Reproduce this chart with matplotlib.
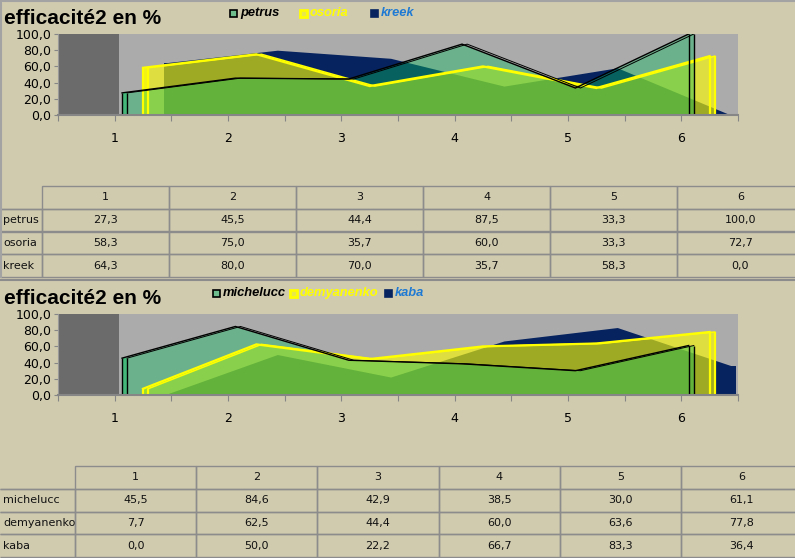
import numpy as np
import matplotlib.pyplot as plt
from matplotlib.lines import Line2D
from matplotlib.patches import Rectangle
from matplotlib.table import Table

W, H = 795, 558
bg = '#D0CBAF'

# data
cats = [1, 2, 3, 4, 5, 6]
col_labels = ['1', '2', '3', '4', '5', '6']
yticks = [0, 20, 40, 60, 80, 100]

names_a = ['petrus', 'osoria', 'kreek']
petrus = [27.3, 45.5, 44.4, 87.5, 33.3, 100.0]
osoria = [58.3, 75.0, 35.7, 60.0, 33.3, 72.7]
kreek = [64.3, 80.0, 70.0, 35.7, 58.3, 0.0]

names_b = ['michelucc', 'demyanenko', 'kaba']
michelucc = [45.5, 84.6, 42.9, 38.5, 30.0, 61.1]
demyanenko = [7.7, 62.5, 44.4, 60.0, 63.6, 77.8]
kaba = [0.0, 50.0, 22.2, 66.7, 83.3, 36.4]

# styles: front, middle, back
fills = [('#0BBF5E', 0.4), ('#FFFF00', 0.62), ('#06235F', 1.0)]
edge_cols = ['black', '#FFFF00', None]
text_cols = ['black', '#FFFF00', '#1F7AD3']
marker_face = ['#6DBE8C', '#E8E84A', '#06235F']
marker_edge = ['black', '#FFFF00', '#06235F']


def fx(x):
    return x / W


def fy(y):
    return 1 - y / H


fig = plt.figure(figsize=(W / 100, H / 100), dpi=100, facecolor=bg)


def chart(top, series, names, leg_pos):
    ax = fig.add_axes([fx(58), fy(top + 81), 680 / W, 81 / H])
    ax.set_facecolor('#ABABAB')
    ax.set_xlim(0.5, 6.5)
    ax.set_ylim(0, 100)
    ax.axvspan(0.5, 1.04, color='#6B6B6B', lw=0)
    d = 0.045
    for k in [2, 1, 0]:
        vals = np.array(series[k])
        xs = np.array(cats) + 0.065 + 0.185 * k
        c, a = fills[k]
        ax.fill_between(xs, 0, vals, color=c, alpha=a, lw=0)
        ax.bar([xs[0], xs[-1]], [vals[0], vals[-1]], width=d, align='edge',
               color=c, alpha=a, lw=0)
        e = edge_cols[k]
        if e is not None:
            lw = 1.0 if k == 0 else 1.6
            ax.plot(xs, vals, color=e, lw=lw, solid_joinstyle='miter')
            ax.plot(xs + d, vals, color=e, lw=lw * 0.7)
            ax.vlines([xs[0], xs[0] + d, xs[-1], xs[-1] + d], 0,
                      [vals[0], vals[0], vals[-1], vals[-1]], color=e, lw=lw)
    ax.set_yticks(yticks)
    ax.set_yticklabels([f'{v:.1f}'.replace('.', ',') for v in yticks])
    xt = np.arange(0.5, 6.51, 0.5)
    ax.set_xticks(xt)
    ax.set_xticklabels([str(int(t)) if t == int(t) else '' for t in xt])
    ax.tick_params(axis='x', length=4, color='#868686', pad=8.5, labelsize=9)
    ax.tick_params(axis='y', length=3, color='#868686', pad=2, labelsize=9)
    for s in ['top', 'right']:
        ax.spines[s].set_visible(False)
    ax.spines['left'].set_color('#9A9A9A')
    ax.spines['bottom'].set_color('#868686')
    ax.spines['bottom'].set_linewidth(1.5)

    fig.text(fx(4), fy(top - 10), 'efficacité2 en %', fontsize=15,
             fontweight='bold', family='Liberation Sans', va='baseline')
    for i, name in enumerate(names):
        x = leg_pos[i]
        fig.add_artist(Rectangle((fx(x), fy(top - 17)), 7 / W, 7 / H,
                                 transform=fig.transFigure, fc=marker_face[i],
                                 ec=marker_edge[i], lw=1.2 if i != 1 else 2))
        fig.text(fx(x + 10), fy(top - 21), name, color=text_cols[i],
                 fontsize=9.3, fontweight='bold', style='italic',
                 family='Liberation Sans', va='center')


def table(ax, top, label_w, col_w, names, series):
    h = 91
    tb = Table(ax, bbox=[fx(0), fy(top + h), (label_w + 6 * col_w) / W, h / H])
    rh = 1 / 4
    widths = [label_w] + [col_w] * 6
    tot = sum(widths)
    c = tb.add_cell(0, 0, label_w / tot, rh, text='', loc='center')
    c.visible_edges = 'B'
    for j, lab in enumerate(col_labels):
        tb.add_cell(0, j + 1, col_w / tot, rh, text=lab, loc='center')
    for i, name in enumerate(names):
        c = tb.add_cell(i + 1, 0, label_w / tot, rh, text=name, loc='left')
        c.PAD = 3 / label_w
        c.visible_edges = 'BRT'
        for j, v in enumerate(series[i]):
            tb.add_cell(i + 1, j + 1, col_w / tot, rh,
                        text=f'{v:.1f}'.replace('.', ','), loc='center')
    tb.auto_set_font_size(False)
    for cell in tb.get_celld().values():
        cell.set_facecolor('none')
        cell.set_edgecolor('#8C8C8C')
        cell.get_text().set_fontsize(8)
        cell.get_text().set_color('#111111')
    ax.add_table(tb)


chart(34, [petrus, osoria, kreek], names_a, [230, 300, 371])
chart(314, [michelucc, demyanenko, kaba], names_b, [213, 290, 385])

axt = fig.add_axes([0, 0, 1, 1])
axt.axis('off')
axt.set_zorder(-1)
table(axt, 186, 42, 127, names_a, [petrus, osoria, kreek])
table(axt, 466, 75, 121.2, names_b, [michelucc, demyanenko, kaba])

# chart frames
fig.add_artist(Line2D([0, 1], [fy(0.7), fy(0.7)], transform=fig.transFigure,
                      color='#A3A3A3', lw=1.5))
fig.add_artist(Line2D([fx(0.8), fx(0.8)], [fy(0), fy(277)], transform=fig.transFigure,
                      color='#A3A3A3', lw=1.5))
fig.add_artist(Line2D([0, 1], [fy(280), fy(280)], transform=fig.transFigure,
                      color='#8C8C8C', lw=1.5))

fig.savefig('out.png', dpi=100, facecolor=bg)
